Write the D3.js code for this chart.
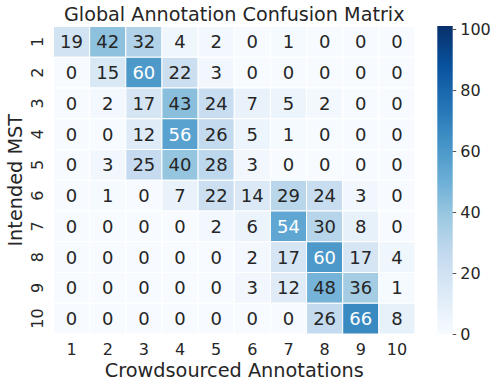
<!DOCTYPE html>
<html><head><meta charset="utf-8">
<script src="https://cdn.jsdelivr.net/npm/d3@7"></script>
<style>body{margin:0;background:#fff}svg{display:block}text{font-family:"DejaVu Sans",sans-serif;fill:#262626}</style>
</head><body><svg id="c" width="500" height="387"></svg>
<script>
const rowLabels = ["1","2","3","4","5","6","7","8","9","10"];
const colLabels = ["1","2","3","4","5","6","7","8","9","10"];
const matrix = [
  [19,42,32,4,2,0,1,0,0,0],
  [0,15,60,22,3,0,0,0,0,0],
  [0,2,17,43,24,7,5,2,0,0],
  [0,0,12,56,26,5,1,0,0,0],
  [0,3,25,40,28,3,0,0,0,0],
  [0,1,0,7,22,14,29,24,3,0],
  [0,0,0,0,2,6,54,30,8,0],
  [0,0,0,0,0,2,17,60,17,4],
  [0,0,0,0,0,3,12,48,36,1],
  [0,0,0,0,0,0,0,26,66,8]
];
const colorTicks = [0,20,40,60,80,100];
const vmax = 101;
const titleText = "Global Annotation Confusion Matrix";
const xLabel = "Crowdsourced Annotations";
const yLabel = "Intended MST";

const svg = d3.select("#c");
const L = 53.5, R = 415, T = 26.5, B = 334;
const x = d3.scaleBand().domain(colLabels).range([L, R]);
const y = d3.scaleBand().domain(rowLabels).range([T, B]);
const blues = ["#f7fbff","#deebf7","#c6dbef","#9ecae1","#6baed6","#4292c6","#2171b5","#08519c","#08306b"];
const color = d3.scaleLinear().domain(blues.map((_, i) => i / 8 * vmax)).range(blues).interpolate(d3.interpolateRgb).clamp(true);

function lum(c) {
  const r = d3.rgb(c);
  const f = v => { v /= 255; return v <= 0.03928 ? v / 12.92 : Math.pow((v + 0.055) / 1.055, 2.4); };
  return 0.2126 * f(r.r) + 0.7152 * f(r.g) + 0.0722 * f(r.b);
}

const cells = [];
matrix.forEach((row, i) => row.forEach((v, j) => cells.push({r: rowLabels[i], c: colLabels[j], v})));

svg.append("g").selectAll("rect").data(cells).join("rect")
  .attr("x", d => x(d.c)).attr("y", d => y(d.r))
  .attr("width", x.bandwidth()).attr("height", y.bandwidth())
  .attr("fill", d => color(d.v)).attr("stroke", "#fff").attr("stroke-width", 1);

svg.append("g").selectAll("text").data(cells).join("text")
  .attr("x", d => x(d.c) + x.bandwidth() / 2).attr("y", d => y(d.r) + y.bandwidth() / 2)
  .attr("text-anchor", "middle").attr("dominant-baseline", "central")
  .style("font-size", "18px")
  .style("fill", d => lum(color(d.v)) > 0.408 ? "#262626" : "#ffffff")
  .text(d => d.v);

// x tick labels
svg.append("g").selectAll("text").data(colLabels).join("text")
  .attr("x", d => x(d) + x.bandwidth() / 2).attr("y", 355)
  .attr("text-anchor", "middle").style("font-size", "16px").text(d => d);

// y tick labels (rotated)
svg.append("g").selectAll("text").data(rowLabels).join("text")
  .attr("transform", d => `translate(43,${y(d) + y.bandwidth() / 2}) rotate(-90)`)
  .attr("text-anchor", "middle").style("font-size", "16px").text(d => d);

svg.append("text").attr("x", (L + R) / 2).attr("y", 377).attr("text-anchor", "middle")
  .style("font-size", "19.3px").text(xLabel);
svg.append("text").attr("transform", `translate(21.5,${(T + B) / 2}) rotate(-90)`).attr("text-anchor", "middle")
  .style("font-size", "19.3px").text(yLabel);
svg.append("text").attr("x", (L + R) / 2).attr("y", 21).attr("text-anchor", "middle")
  .style("font-size", "19.2px").text(titleText);

// colorbar
const cbL = 437.3, cbW = 15.4, cbT = 26, cbB = 334;
const cy = d3.scaleLinear().domain([0, vmax]).range([cbB, cbT]);
const defs = svg.append("defs");
const grad = defs.append("linearGradient").attr("id", "g").attr("x1", 0).attr("y1", 1).attr("x2", 0).attr("y2", 0);
blues.forEach((c, i) => grad.append("stop").attr("offset", i / 8).attr("stop-color", c));
svg.append("rect").attr("x", cbL).attr("y", cbT).attr("width", cbW).attr("height", cbB - cbT).attr("fill", "url(#g)");
const cax = svg.append("g").attr("transform", `translate(${cbL + cbW},0)`)
  .call(d3.axisRight(cy).tickValues(colorTicks).tickSize(3.5).tickPadding(4));
cax.select(".domain").remove();
cax.selectAll("line").attr("stroke", "#262626").attr("stroke-width", 0.8);
cax.selectAll("text").style("font-size", "16px").style("font-family", "DejaVu Sans").attr("fill", "#262626");
</script></body></html>
